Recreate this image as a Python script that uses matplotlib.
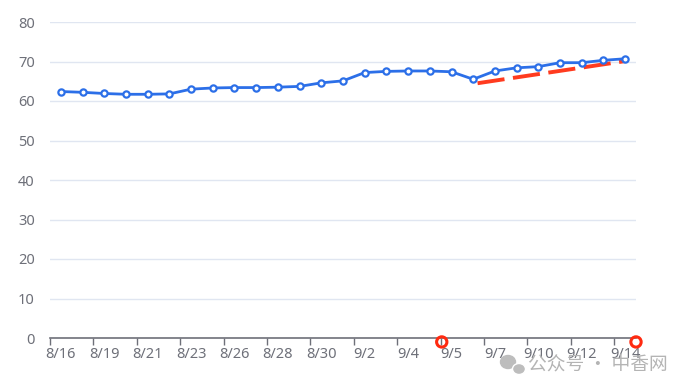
import matplotlib
matplotlib.use('Agg')
import matplotlib.pyplot as plt
from matplotlib.patches import Ellipse

plt.rcParams['font.family'] = ['Noto Sans', 'Noto Sans CJK SC', 'DejaVu Sans']

dates = ['8/16', '8/17', '8/19', '8/20', '8/21', '8/22', '8/23', '8/24', '8/26',
         '8/27', '8/28', '8/29', '8/30', '8/31', '9/2', '9/3', '9/4', '9/4 ',
         '9/5', '9/6', '9/7', '9/9', '9/10', '9/11', '9/12', '9/13', '9/14']
values = [62.4, 62.2, 61.9, 61.7, 61.7, 61.8, 63.0, 63.3, 63.4, 63.4, 63.5, 63.7,
          64.6, 65.1, 67.2, 67.5, 67.6, 67.6, 67.4, 65.5, 67.6, 68.4, 68.7, 69.7,
          69.7, 70.3, 70.7]
# red dashed trend line (start/end index, value)
trend_x = [19.2, 26.0]
trend_y = [64.5, 70.1]
# red circles drawn on the x axis
mark_x = [17.55, 26.5]

grid_c = '#E0E6F1'
axis_c = '#6E7079'
blue = '#2C6FE8'

fig = plt.figure(figsize=(6.81, 3.91), dpi=100)
ax = fig.add_axes([50 / 681, 1 - 338 / 391, 586 / 681, 316 / 391])

x = list(range(len(dates)))
ax.plot(x, values, color=blue, lw=2, zorder=3, marker='o', ms=4.5,
        mfc='white', mec=blue, mew=1.6)
ax.plot(trend_x, trend_y, color='#FF3B1F', lw=2.8, dashes=(7, 2.2), zorder=2)

ax.set_xlim(-0.5, len(dates) - 0.5)
ax.set_ylim(0, 80)
ax.set_yticks(range(0, 81, 10))
ax.yaxis.grid(True, color=grid_c, lw=1)
ax.set_axisbelow(True)
for s in ['top', 'right', 'left']:
    ax.spines[s].set_visible(False)
ax.spines['bottom'].set_color(axis_c)
ax.spines['bottom'].set_linewidth(1.2)
ax.tick_params(axis='y', length=0, pad=11, labelcolor=axis_c, labelsize=10.5)

# ticks at category boundaries, labels on every other category
ax.set_xticks([i - 0.5 for i in range(0, len(dates), 2)])
ax.set_xticklabels([])
ax.tick_params(axis='x', length=5, color=axis_c, width=1)
for i in range(0, len(dates), 2):
    ax.text(i, -2.4, dates[i], ha='center', va='top', color=axis_c, fontsize=10.5)

ax.scatter(mark_x, [-1.0, -1.0], s=55, facecolors='none', edgecolors='#FF2A10',
           linewidths=2.2, clip_on=False, zorder=5)

# watermark
fig.text(528 / 681, 1 - 364 / 391, '公众号 · 中香网', color='#B4B4B4', fontsize=13.5,
         ha='left', va='center', family=['Noto Sans CJK SC', 'DejaVu Sans'])
fig.patches.append(Ellipse((508 / 681, 1 - 362 / 391), 15 / 681, 13 / 391,
                           transform=fig.transFigure, color='#BDBDBD'))
fig.patches.append(Ellipse((519 / 681, 1 - 369 / 391), 13 / 681, 11 / 391,
                           transform=fig.transFigure, color='#BDBDBD', ec='white', lw=1))

fig.savefig('out.png', dpi=100)
